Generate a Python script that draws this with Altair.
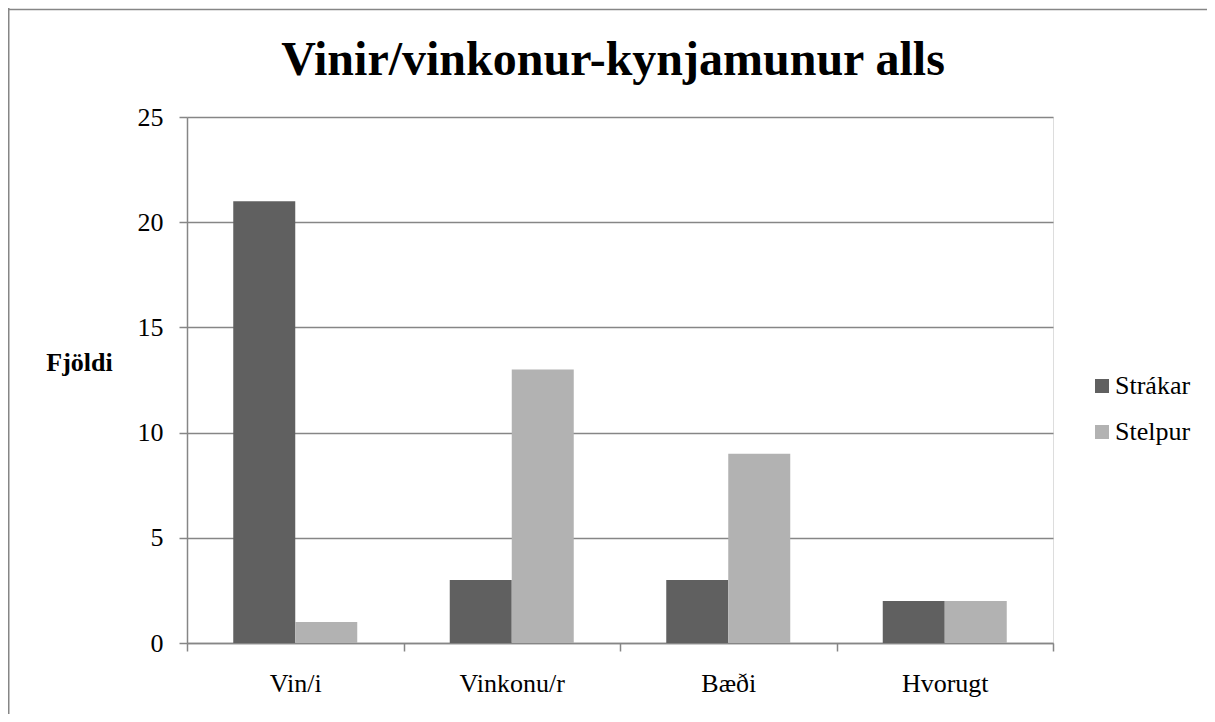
import altair as alt
import pandas as pd

categories = ["Vin/i", "Vinkonu/r", "Bæði", "Hvorugt"]
series_names = ["Strákar", "Stelpur"]
strakar = [21, 3, 3, 2]
stelpur = [1, 13, 9, 2]
y_ticks = [0, 5, 10, 15, 20, 25]
series_colors = ["#606060", "#b2b2b2"]
chart_title = "Vinir/vinkonur-kynjamunur alls"

rows = []
for c, a, b in zip(categories, strakar, stelpur):
    rows.append({"flokkur": c, "kyn": series_names[0], "fjoldi": a})
    rows.append({"flokkur": c, "kyn": series_names[1], "fjoldi": b})
df = pd.DataFrame(rows)

FONT = "Liberation Serif"
GRAY = "#868686"
PAD_L, PAD_T, PAD_R, PAD_B = 179, 109, 154, 71
W, H = 866, 526

bars = alt.Chart(df).mark_bar().encode(
    x=alt.X(
        "flokkur:N",
        sort=categories,
        scale=alt.Scale(paddingInner=0, paddingOuter=0),
        axis=alt.Axis(
            title=None,
            labelAngle=0,
            tickBand="extent",
            grid=False,
            domainColor=GRAY,
            domainWidth=1.5,
            tickColor=GRAY,
            tickWidth=1.5,
            tickSize=8,
            labelFont=FONT,
            labelFontSize=26,
            labelColor="black",
            labelPadding=19,
        ),
    ),
    xOffset=alt.XOffset("kyn:N", sort=series_names,
                        scale=alt.Scale(paddingInner=0, paddingOuter=0.746)),
    y=alt.Y(
        "fjoldi:Q",
        scale=alt.Scale(domain=[0, 25], nice=False),
        axis=alt.Axis(
            values=y_ticks,
            title="Fjöldi",
            titleAngle=0,
            titleX=-108,
            titleY=245,
            titleAlign="center",
            titleBaseline="middle",
            titleFont=FONT,
            titleFontSize=26,
            titleFontWeight="bold",
            titleColor="black",
            grid=True,
            gridColor=GRAY,
            gridWidth=1.3,
            domainColor=GRAY,
            domainWidth=1.5,
            tickColor=GRAY,
            tickWidth=1.5,
            tickSize=8,
            labelFont=FONT,
            labelFontSize=26,
            labelColor="black",
            labelPadding=16,
        ),
    ),
    color=alt.Color(
        "kyn:N",
        sort=series_names,
        scale=alt.Scale(domain=series_names, range=series_colors),
        legend=alt.Legend(
            title=None,
            orient="none",
            legendX=902,
            legendY=256,
            padding=0,
            symbolType="square",
            symbolSize=196,
            symbolStrokeWidth=0,
            symbolOpacity=1,
            labelFont=FONT,
            labelFontSize=26,
            labelColor="black",
            labelOffset=0,
            rowPadding=20,
        ),
    ),
)

frame_data = alt.Data(values=[{"k": 1}])
left_border = alt.Chart(frame_data).mark_rule(color=GRAY, strokeWidth=1.5).encode(
    x=alt.value(-PAD_L + 0.75), y=alt.value(-PAD_T), y2=alt.value(H + PAD_B)
)
top_border = alt.Chart(frame_data).mark_rule(color=GRAY, strokeWidth=1.5).encode(
    x=alt.value(-PAD_L), x2=alt.value(W + PAD_R), y=alt.value(-PAD_T + 1.5)
)
title_text = alt.Chart(frame_data).mark_text(
    font=FONT, fontSize=48, fontWeight="bold", color="black",
    align="center", baseline="alphabetic",
).encode(
    x=alt.value(W / 2 - 7), y=alt.value(-42), text=alt.value(chart_title)
)

chart = alt.layer(left_border, top_border, title_text, bars).properties(
    width=W,
    height=H,
    padding={"left": PAD_L, "top": PAD_T, "right": PAD_R, "bottom": PAD_B},
    autosize=alt.AutoSizeParams(type="none"),
).configure_view(strokeWidth=0).configure(
    background="white", font=FONT
).configure_legend(labelFont=FONT)

chart.save("out.html", embed_options={"renderer": "svg", "actions": False})
